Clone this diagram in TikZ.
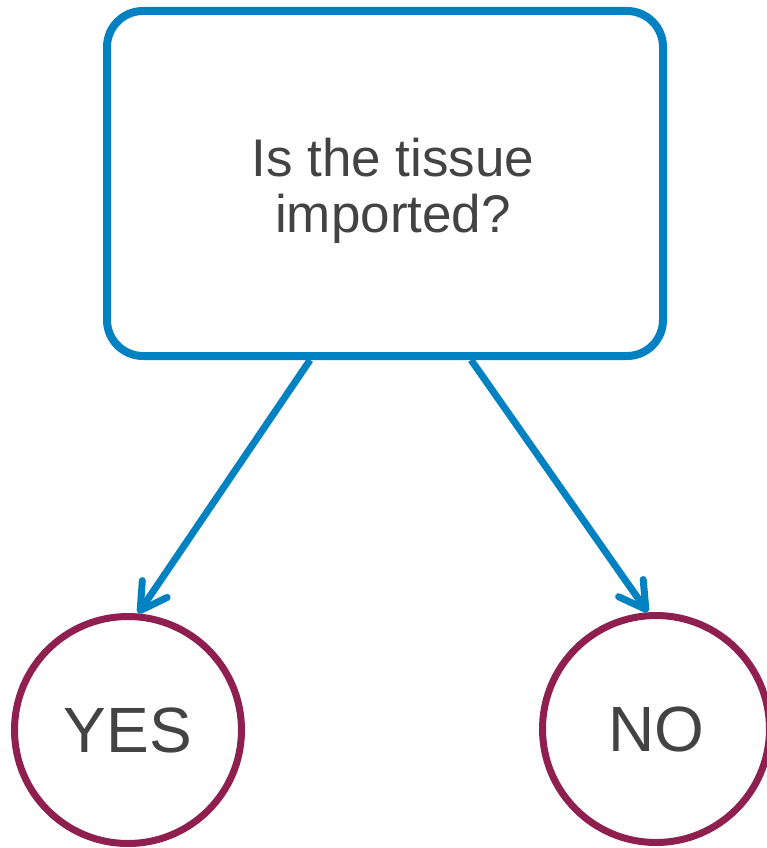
\documentclass[tikz,border=0pt]{standalone}
\usepackage{fontspec}
\setmainfont{Liberation Sans}
\usetikzlibrary{arrows.meta}
\definecolor{bblue}{HTML}{0081C1}
\definecolor{maroon}{HTML}{8E1F4E}
\definecolor{tgray}{HTML}{434343}
\begin{document}
\begin{tikzpicture}[x=1pt,y=-1pt,
  qbox/.style={draw=bblue, line width=8pt, rounded corners=36pt, minimum width=556pt, minimum height=345pt, inner sep=0pt, text=tgray, font=\fontsize{53}{56}\selectfont},
  answer/.style={circle, draw=maroon, line width=7pt, minimum size=227pt, inner sep=0pt, text=tgray, font=\fontsize{64}{70}\selectfont},
  conn/.style={draw=bblue, line width=7pt, -{Straight Barb[length=26pt, width=30pt, line cap=round, line join=round]}}
]
\path[use as bounding box] (0,0) rectangle (767,848);
\node[qbox] (box) at (385,183.5) {\hspace*{16pt}\raisebox{-10pt}[\height][\depth]{\begin{tabular}{@{}c@{}}Is the tissue\\imported?\end{tabular}}};
\node[answer] (yes) at (128,730) {YES};
\node[answer] (no) at (656,729) {NO};
\draw[conn] (box.247.5) -- (yes.85.6);
\draw[conn] (box.296.8) -- (no.94);
\end{tikzpicture}
\end{document}
